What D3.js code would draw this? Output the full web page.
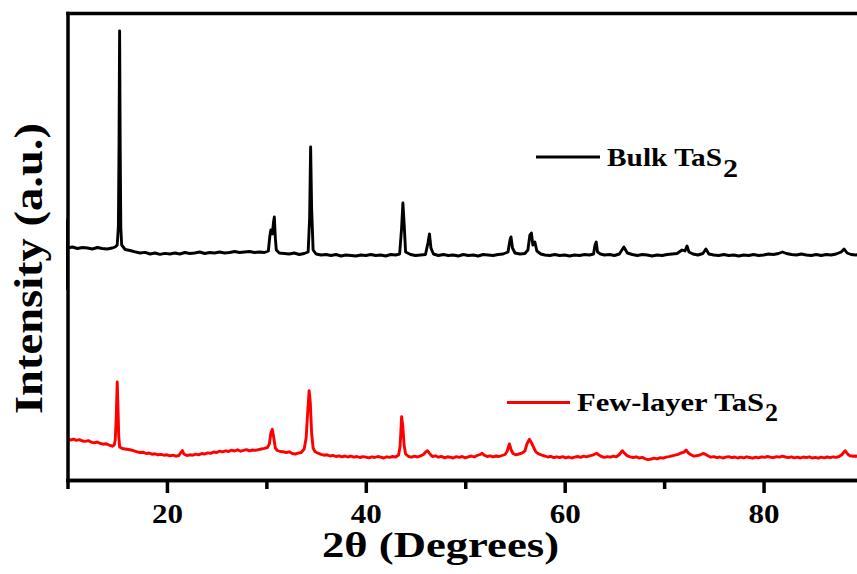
<!DOCTYPE html>
<html>
<head>
<meta charset="utf-8">
<script src="https://cdn.jsdelivr.net/npm/d3@7"></script>
<style>
  html, body { margin: 0; padding: 0; background: #fff; overflow: hidden; }
  text { font-family: "Liberation Serif", "Times New Roman", serif; font-weight: bold; fill: #000; }
</style>
</head>
<body>
<svg id="chart" width="857" height="574"></svg>
<script>
// XRD patterns, [2θ (deg), intensity (a.u., bulk pattern stacked above the few-layer one)]
const bulkTaS2 = [
  [10.0, 1880], [10.0, 2580], [10.0, 2300],
  [10.5, 2310], [11.0, 2295], [11.5, 2305], [12.0, 2300], [12.5, 2290], [13.0, 2305],
  [13.5, 2295], [14.0, 2290], [14.5, 2300], [14.8, 2310], [15.0, 2330], [15.12, 2520],
  [15.18, 3300], [15.24, 4470], [15.3, 3300], [15.36, 2500], [15.45, 2330], [15.8, 2285],
  [16.3, 2275], [16.8, 2262], [17.3, 2250], [17.8, 2256], [18.3, 2240], [18.8, 2250],
  [19.3, 2236], [19.8, 2246], [20.3, 2240], [20.8, 2250], [21.3, 2240], [21.8, 2255],
  [22.3, 2245], [22.8, 2250], [23.3, 2260], [23.8, 2245], [24.3, 2255], [24.8, 2250],
  [25.3, 2260], [25.8, 2250], [26.3, 2255], [26.8, 2265], [27.3, 2255], [27.8, 2260],
  [28.3, 2265], [28.8, 2255], [29.3, 2260], [29.8, 2255], [30.2, 2270], [30.35, 2420],
  [30.45, 2480], [30.6, 2440], [30.72, 2560], [30.8, 2610], [30.9, 2400], [31.0, 2280],
  [31.3, 2250], [31.8, 2245], [32.3, 2240], [32.8, 2250], [33.3, 2235], [33.8, 2245],
  [34.2, 2260], [34.35, 2600], [34.45, 3310], [34.55, 2700], [34.7, 2280], [35.0, 2240],
  [35.5, 2230], [36.0, 2235], [36.5, 2225], [37.0, 2235], [37.5, 2220], [38.0, 2230],
  [38.5, 2225], [39.0, 2220], [39.5, 2230], [40.0, 2225], [40.5, 2235], [41.0, 2225],
  [41.5, 2230], [42.0, 2220], [42.5, 2235], [43.0, 2230], [43.4, 2240], [43.6, 2500],
  [43.73, 2750], [43.85, 2550], [44.0, 2260], [44.5, 2235], [45.0, 2225], [45.5, 2230],
  [46.0, 2235], [46.25, 2350], [46.4, 2440], [46.55, 2300], [46.8, 2240], [47.3, 2225],
  [47.8, 2235], [48.3, 2225], [48.8, 2230], [49.3, 2220], [49.8, 2235], [50.3, 2225],
  [50.8, 2230], [51.3, 2220], [51.8, 2235], [52.3, 2230], [52.8, 2225], [53.3, 2235],
  [53.8, 2240], [54.3, 2260], [54.5, 2380], [54.6, 2410], [54.75, 2300], [55.0, 2250],
  [55.5, 2240], [56.0, 2245], [56.3, 2280], [56.5, 2430], [56.65, 2450], [56.8, 2330],
  [57.0, 2360], [57.2, 2270], [57.6, 2240], [58.0, 2230], [58.5, 2225], [59.0, 2235],
  [59.5, 2225], [60.0, 2230], [60.5, 2220], [61.0, 2230], [61.5, 2225], [62.0, 2235],
  [62.5, 2230], [62.9, 2240], [63.05, 2330], [63.17, 2360], [63.3, 2260], [63.6, 2240],
  [64.0, 2230], [64.5, 2235], [65.0, 2225], [65.5, 2240], [65.95, 2310], [66.3, 2250],
  [66.8, 2235], [67.3, 2225], [67.8, 2235], [68.3, 2230], [68.8, 2220], [69.3, 2230],
  [69.8, 2225], [70.3, 2235], [70.8, 2240], [71.3, 2245], [71.8, 2280], [72.1, 2270],
  [72.3, 2320], [72.5, 2260], [72.9, 2240], [73.4, 2230], [73.9, 2245], [74.2, 2290],
  [74.5, 2240], [75.0, 2230], [75.5, 2225], [76.0, 2235], [76.5, 2225], [77.0, 2230],
  [77.5, 2220], [78.0, 2230], [78.5, 2225], [79.0, 2235], [79.5, 2225], [80.0, 2230],
  [80.5, 2240], [81.0, 2235], [81.5, 2245], [81.9, 2260], [82.3, 2245], [82.8, 2235],
  [83.3, 2230], [83.8, 2240], [84.3, 2230], [84.8, 2225], [85.3, 2235], [85.8, 2225],
  [86.3, 2235], [86.8, 2230], [87.3, 2240], [87.8, 2260], [88.1, 2290], [88.4, 2250],
  [88.8, 2235], [89.3, 2230], [89.8, 2240], [90.0, 2235]
];

const fewLayerTaS2 = [
  [10.0, 392], [10.3, 380], [10.6, 388], [10.9, 376], [11.2, 384], [11.5, 370], [11.8, 366],
  [12.1, 374], [12.4, 358], [12.7, 352], [13.0, 360], [13.3, 345], [13.6, 338], [13.9, 342],
  [14.2, 328], [14.5, 318], [14.7, 330], [14.8, 380], [14.9, 600], [15.0, 960], [15.08, 700],
  [15.15, 420], [15.25, 310], [15.5, 295], [15.8, 290], [16.1, 285], [16.4, 280], [16.7, 272],
  [17.0, 262], [17.3, 255], [17.6, 258], [17.9, 245], [18.2, 250], [18.5, 238], [18.8, 242],
  [19.1, 232], [19.4, 236], [19.7, 228], [20.0, 232], [20.3, 222], [20.6, 228], [20.9, 218],
  [21.2, 225], [21.4, 255], [21.55, 275], [21.7, 240], [22.0, 225], [22.3, 232], [22.6, 228],
  [22.9, 238], [23.2, 232], [23.5, 245], [23.8, 240], [24.1, 252], [24.4, 246], [24.7, 260],
  [25.0, 255], [25.3, 268], [25.6, 262], [25.9, 272], [26.2, 265], [26.5, 278], [26.8, 270],
  [27.1, 282], [27.4, 268], [27.7, 276], [28.0, 284], [28.3, 272], [28.6, 280], [28.9, 276],
  [29.2, 284], [29.5, 290], [29.8, 296], [30.1, 305], [30.3, 340], [30.45, 450], [30.6, 487],
  [30.75, 400], [30.9, 300], [31.1, 275], [31.4, 265], [31.7, 262], [32.0, 255], [32.3, 262],
  [32.6, 245], [32.9, 240], [33.2, 248], [33.5, 255], [33.8, 290], [34.0, 400], [34.15, 650],
  [34.3, 873], [34.42, 750], [34.55, 450], [34.7, 300], [34.9, 262], [35.2, 248], [35.5, 236],
  [35.8, 228], [36.1, 232], [36.4, 220], [36.7, 226], [37.0, 215], [37.3, 222], [37.6, 212],
  [37.9, 220], [38.2, 210], [38.5, 218], [38.8, 208], [39.1, 215], [39.4, 205], [39.7, 214],
  [40.0, 208], [40.3, 202], [40.6, 212], [40.9, 205], [41.2, 215], [41.5, 208], [41.8, 200],
  [42.1, 212], [42.4, 206], [42.7, 215], [43.0, 210], [43.3, 230], [43.45, 320], [43.6, 613],
  [43.72, 520], [43.85, 330], [44.0, 240], [44.3, 215], [44.6, 208], [44.9, 218], [45.2, 210],
  [45.5, 222], [45.8, 235], [46.0, 258], [46.2, 273], [46.45, 240], [46.7, 215], [47.0, 222],
  [47.3, 208], [47.6, 216], [47.9, 202], [48.2, 212], [48.5, 208], [48.8, 200], [49.1, 214],
  [49.4, 206], [49.7, 215], [50.0, 202], [50.3, 212], [50.6, 220], [50.9, 210], [51.2, 225],
  [51.5, 235], [51.7, 247], [51.9, 228], [52.2, 215], [52.5, 222], [52.8, 212], [53.1, 220],
  [53.4, 215], [53.7, 225], [54.0, 235], [54.2, 265], [54.44, 340], [54.6, 285], [54.8, 245],
  [55.1, 232], [55.4, 240], [55.7, 248], [56.0, 270], [56.2, 340], [56.45, 387], [56.7, 345],
  [56.9, 300], [57.1, 262], [57.4, 240], [57.7, 228], [58.0, 220], [58.3, 210], [58.6, 216],
  [58.9, 204], [59.2, 212], [59.5, 205], [59.8, 214], [60.1, 202], [60.4, 210], [60.7, 200],
  [61.0, 208], [61.3, 215], [61.6, 206], [61.9, 218], [62.2, 212], [62.5, 222], [62.8, 228],
  [63.0, 238], [63.2, 247], [63.45, 230], [63.7, 215], [64.0, 206], [64.3, 214], [64.6, 208],
  [64.9, 218], [65.2, 212], [65.5, 235], [65.8, 273], [66.0, 248], [66.3, 222], [66.6, 212],
  [66.9, 205], [67.2, 212], [67.5, 200], [67.8, 206], [68.1, 192], [68.4, 184], [68.7, 190],
  [69.0, 198], [69.3, 192], [69.6, 204], [69.9, 198], [70.2, 208], [70.5, 214], [70.8, 222],
  [71.1, 228], [71.4, 236], [71.7, 250], [72.0, 258], [72.2, 280], [72.45, 250], [72.7, 232],
  [73.0, 218], [73.3, 224], [73.6, 230], [73.9, 245], [74.1, 240], [74.4, 222], [74.7, 208],
  [75.0, 214], [75.3, 204], [75.6, 210], [75.9, 200], [76.2, 208], [76.5, 214], [76.8, 204],
  [77.1, 210], [77.4, 200], [77.7, 208], [78.0, 202], [78.3, 212], [78.6, 205], [78.9, 198],
  [79.2, 208], [79.5, 202], [79.8, 212], [80.1, 206], [80.4, 215], [80.7, 208], [81.0, 204],
  [81.3, 214], [81.6, 208], [81.9, 218], [82.2, 210], [82.5, 204], [82.8, 212], [83.1, 202],
  [83.4, 208], [83.7, 200], [84.0, 210], [84.3, 204], [84.6, 212], [84.9, 200], [85.2, 206],
  [85.5, 198], [85.8, 208], [86.1, 202], [86.4, 210], [86.7, 204], [87.0, 212], [87.3, 206],
  [87.6, 215], [87.9, 235], [88.2, 273], [88.45, 240], [88.7, 222], [89.0, 218], [89.3, 220],
  [89.6, 214], [90.0, 218]
];

const majorTicks = [20, 40, 60, 80];
const minorTicks = [10, 30, 50, 70, 90];
const seriesLabels = ["Bulk TaS", "Few-layer TaS"];
const seriesColors = ["#000000", "#ff0000"];
const xTitle = "2θ (Degrees)";
const yTitle = "Intensity (a.u.)";

const svg = d3.select("#chart");
const plot = { left: 67.5, right: 863, top: 13, bottom: 480 };
const serif = '"Liberation Serif", "Times New Roman", serif';

const x = d3.scaleLinear().domain([10, 90]).range([plot.left, plot.right]);
const y = d3.scaleLinear().domain([-20, 4650]).range([plot.bottom, plot.top]);

const axisStroke = 3.5;

// traces
const line = d3.line().x(d => x(d[0])).y(d => y(d[1]));
[bulkTaS2, fewLayerTaS2].forEach((data, i) => {
  svg.append("path")
    .datum(data)
    .attr("d", line)
    .attr("fill", "none")
    .attr("stroke", seriesColors[i])
    .attr("stroke-width", 2.9)
    .attr("stroke-linejoin", "round");
});

// frame: left, top, bottom
function styleAxis(g) {
  g.selectAll("path.domain").attr("stroke", "#000").attr("stroke-width", axisStroke).attr("stroke-linecap", "square");
  g.selectAll(".tick line").attr("stroke", "#000").attr("stroke-width", axisStroke);
}

svg.append("g")
  .attr("transform", `translate(${plot.left},0)`)
  .call(d3.axisLeft(y).tickValues([]).tickSizeOuter(0))
  .call(styleAxis);

svg.append("g")
  .attr("transform", `translate(0,${plot.top})`)
  .call(d3.axisTop(x).tickValues([]).tickSizeOuter(0))
  .call(styleAxis);

svg.append("g")
  .attr("transform", `translate(0,${plot.bottom})`)
  .call(d3.axisBottom(x).tickValues(minorTicks).tickSize(9).tickSizeOuter(0).tickFormat(""))
  .call(styleAxis);

const xAxis = svg.append("g")
  .attr("transform", `translate(0,${plot.bottom})`)
  .call(d3.axisBottom(x).tickValues(majorTicks).tickSize(13).tickSizeOuter(0).tickFormat(d3.format("d")))
  .call(styleAxis);

xAxis.selectAll(".tick text")
  .attr("y", 43)
  .attr("dy", 0)
  .attr("fill", "#000")
  .attr("font-family", serif)
  .style("font-family", serif)
  .style("font-size", "28px")
  .style("font-weight", "bold")
  .attr("textLength", 31)
  .attr("lengthAdjust", "spacingAndGlyphs");

// axis titles
svg.append("text")
  .attr("x", 322).attr("y", 557)
  .style("font-size", "35px")
  .attr("textLength", 237)
  .attr("lengthAdjust", "spacingAndGlyphs")
  .text(xTitle);

svg.append("text")
  .attr("transform", "translate(42,414) rotate(-90)")
  .style("font-size", "40px")
  .attr("textLength", 291)
  .attr("lengthAdjust", "spacingAndGlyphs")
  .text(yTitle);

// legend entries
const legend = [
  { lineX: [536, 600], lineY: 157, textX: 607, textY: 166, textLen: 115, subX: 723, subY: 177, subLen: 15 },
  { lineX: [507, 570], lineY: 402.5, textX: 577, textY: 411, textLen: 187, subX: 765, subY: 421, subLen: 13 }
];

legend.forEach((L, i) => {
  svg.append("line")
    .attr("x1", L.lineX[0]).attr("x2", L.lineX[1])
    .attr("y1", L.lineY).attr("y2", L.lineY)
    .attr("stroke", seriesColors[i])
    .attr("stroke-width", 2.9);
  svg.append("text")
    .attr("x", L.textX).attr("y", L.textY)
    .style("font-size", "26px")
    .attr("textLength", L.textLen)
    .attr("lengthAdjust", "spacingAndGlyphs")
    .text(seriesLabels[i]);
  svg.append("text")
    .attr("x", L.subX).attr("y", L.subY)
    .style("font-size", "26px")
    .attr("textLength", L.subLen)
    .attr("lengthAdjust", "spacingAndGlyphs")
    .text("2");
});
</script>
</body>
</html>
